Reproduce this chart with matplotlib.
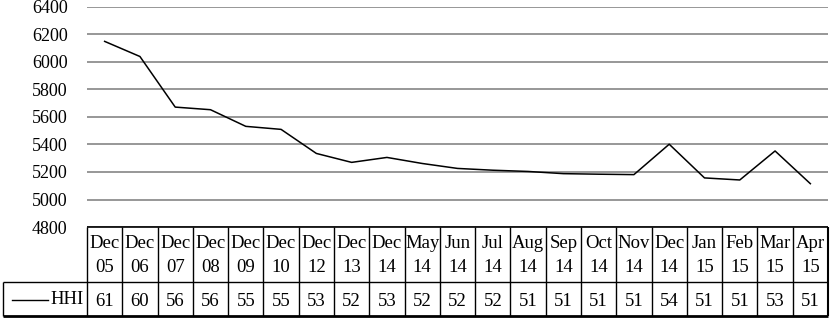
import matplotlib
matplotlib.use('Agg')
import matplotlib.pyplot as plt
import numpy as np

plt.rcParams['font.family'] = ['Liberation Serif', 'DejaVu Serif']

months = ['Dec', 'Dec', 'Dec', 'Dec', 'Dec', 'Dec', 'Dec', 'Dec', 'Dec', 'May', 'Jun',
          'Jul', 'Aug', 'Sep', 'Oct', 'Nov', 'Dec', 'Jan', 'Feb', 'Mar', 'Apr']
years = ['05', '06', '07', '08', '09', '10', '12', '13', '14', '14', '14',
         '14', '14', '14', '14', '14', '14', '15', '15', '15', '15']
hhi = [6150, 6040, 5672, 5653, 5532, 5510, 5335, 5270, 5306, 5262, 5226,
       5213, 5204, 5188, 5184, 5181, 5402, 5157, 5142, 5353, 5115]
table_vals = [61, 60, 56, 56, 55, 55, 53, 52, 53, 52, 52,
              52, 51, 51, 51, 51, 54, 51, 51, 53, 51]
series_name = 'HHI'

W, H = 838, 325
fig = plt.figure(figsize=(W / 100, H / 100), dpi=100)
n = len(hhi)

# main chart
ax = fig.add_axes([87 / W, 1 - 227 / H, (828 - 87) / W, (227 - 7) / H])
x = np.arange(n)
ax.plot(x, hhi, color='black', lw=1.1, zorder=3)
ax.set_xlim(-0.5, n - 0.5)
ax.set_ylim(4800, 6400)
ax.set_yticks(range(4800, 6401, 200))
ax.set_xticks([])
for sp in ax.spines.values():
    sp.set_visible(False)
ax.tick_params(axis='y', length=0, pad=14, labelsize=13)
ax.grid(axis='y', color='#7a7a7a', lw=1.1)
ax.set_axisbelow(True)

# data table
cw = (828 - 87) / n
x_left = -0.5 - (87 - 3) / cw
tax = fig.add_axes([3 / W, 9 / H, (828 - 3) / W, 89 / H])
tax.set_xlim(x_left, n - 0.5)
tax.set_ylim(0, 89)
tax.axis('off')
kw = dict(color='black', clip_on=False)
tax.hlines(89, -0.5, n - 0.5, lw=1.2, **kw)
tax.hlines(34, x_left, n - 0.5, lw=1.0, **kw)
tax.hlines(0, x_left, n - 0.5, lw=2.0, **kw)
for i in range(n + 1):
    tax.vlines(i - 0.5, 0, 89, lw=1.5 if i == n else 1.0, **kw)
tax.vlines(x_left, 0, 34, lw=1.0, **kw)

fs = 13.5
for i in range(n):
    tax.text(i, 73, months[i], ha='center', va='center', fontsize=fs)
    tax.text(i, 48, years[i], ha='center', va='center', fontsize=fs)
    tax.text(i, 15, str(table_vals[i]), ha='center', va='center', fontsize=fs)

tax.plot([x_left + 9 / cw, x_left + 45 / cw], [16, 16], color='black', lw=1.0, clip_on=False)
tax.text(x_left + 81 / cw, 16, series_name, ha='right', va='center', fontsize=fs)

fig.savefig('out.png', dpi=100)
